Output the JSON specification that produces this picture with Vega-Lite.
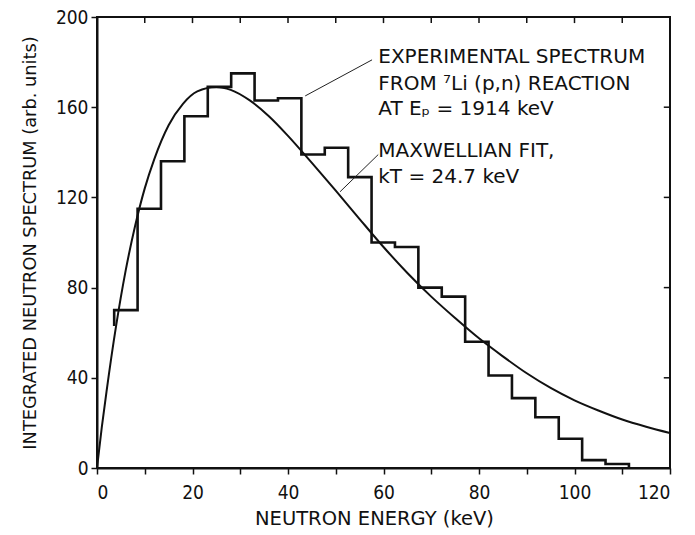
{
  "$schema": "https://vega.github.io/schema/vega-lite/v6.json",
  "width": 573,
  "height": 451,
  "autosize": {"type": "none"},
  "padding": {"left": 97, "top": 17, "right": 25, "bottom": 67},
  "background": "white",
  "config": {
    "view": {"stroke": "#111", "strokeWidth": 2},
    "font": "DejaVu Sans",
    "axis": {
      "domainColor": "#111",
      "domainWidth": 2,
      "tickColor": "#111",
      "tickWidth": 1.5,
      "tickSize": 6,
      "labelColor": "#111",
      "labelFont": "DejaVu Sans Condensed",
      "labelFontSize": 19,
      "titleColor": "#111",
      "titleFont": "DejaVu Sans",
      "titleFontSize": 19.5,
      "titleFontWeight": "normal",
      "grid": false
    }
  },
  "datasets": {
    "fit": [
      {"energy": 0, "value": 0},
      {"energy": 1, "value": 18},
      {"energy": 2, "value": 34},
      {"energy": 4, "value": 63},
      {"energy": 6, "value": 87.5},
      {"energy": 8, "value": 107.5},
      {"energy": 10, "value": 124},
      {"energy": 12, "value": 137},
      {"energy": 15, "value": 152},
      {"energy": 18, "value": 161.5},
      {"energy": 21, "value": 167},
      {"energy": 25, "value": 169},
      {"energy": 28, "value": 167.7},
      {"energy": 32, "value": 163},
      {"energy": 36, "value": 156},
      {"energy": 40, "value": 147.3},
      {"energy": 45, "value": 135.3},
      {"energy": 50, "value": 123},
      {"energy": 55, "value": 110.4},
      {"energy": 60, "value": 98},
      {"energy": 65, "value": 86.5},
      {"energy": 70, "value": 76},
      {"energy": 75, "value": 66.5},
      {"energy": 80, "value": 57.5},
      {"energy": 85, "value": 49.5},
      {"energy": 90, "value": 42},
      {"energy": 95, "value": 35.5},
      {"energy": 100, "value": 30},
      {"energy": 105, "value": 25.5},
      {"energy": 110, "value": 21.5},
      {"energy": 115, "value": 18.3},
      {"energy": 120, "value": 15.5}
    ],
    "hist": [
      {"energy": 3.6, "counts": 63},
      {"energy": 3.6, "counts": 70},
      {"energy": 8.5, "counts": 115},
      {"energy": 13.4, "counts": 136},
      {"energy": 18.3, "counts": 156},
      {"energy": 23.2, "counts": 169},
      {"energy": 28.1, "counts": 175},
      {"energy": 33.0, "counts": 163},
      {"energy": 37.9, "counts": 164},
      {"energy": 42.8, "counts": 139},
      {"energy": 47.7, "counts": 142},
      {"energy": 52.6, "counts": 129},
      {"energy": 57.5, "counts": 100},
      {"energy": 62.4, "counts": 98},
      {"energy": 67.3, "counts": 80},
      {"energy": 72.2, "counts": 76},
      {"energy": 77.1, "counts": 56},
      {"energy": 82.0, "counts": 41},
      {"energy": 86.9, "counts": 31},
      {"energy": 91.8, "counts": 22.5},
      {"energy": 96.7, "counts": 13},
      {"energy": 101.6, "counts": 3.5},
      {"energy": 106.5, "counts": 1.8},
      {"energy": 111.4, "counts": 0}
    ],
    "topTicks": [
      {"tick": 10}, {"tick": 20}, {"tick": 30}, {"tick": 40}, {"tick": 50}, {"tick": 60},
      {"tick": 70}, {"tick": 80}, {"tick": 90}, {"tick": 100}, {"tick": 110}
    ],
    "rightTicks": [
      {"tick": 40}, {"tick": 80}, {"tick": 120}, {"tick": 160}
    ],
    "pointers": [
      {"x": 43.6, "y": 165, "x2": 57.6, "y2": 181},
      {"x": 50.9, "y": 122.5, "x2": 58.9, "y2": 139}
    ],
    "notes": [
      {"x": 58.9, "y": 179.6, "text": "EXPERIMENTAL SPECTRUM"},
      {"x": 58.9, "y": 167.6, "text": "FROM ⁷Li (p,n) REACTION"},
      {"x": 58.9, "y": 156.5, "text": "AT Eₚ = 1914 keV"},
      {"x": 58.9, "y": 137.9, "text": "MAXWELLIAN FIT,"},
      {"x": 58.9, "y": 126.4, "text": "kT = 24.7 keV"}
    ]
  },
  "layer": [
    {
      "data": {"name": "fit"},
      "mark": {"type": "line", "color": "#111", "strokeWidth": 2, "interpolate": "monotone"},
      "encoding": {
        "x": {
          "field": "energy", "type": "quantitative",
          "scale": {"domain": [0, 120], "nice": false, "zero": false},
          "axis": {
            "orient": "bottom",
            "title": "NEUTRON ENERGY (keV)",
            "values": [0, 10, 20, 30, 40, 50, 60, 70, 80, 90, 100, 110, 120],
            "labelExpr": "datum.value % 20 == 0 ? datum.label : ''",
            "labelPadding": 9,
            "titlePadding": 7,
            "titleX": 277
          }
        },
        "y": {
          "field": "value", "type": "quantitative",
          "scale": {"domain": [0, 200], "nice": false, "zero": false},
          "axis": {
            "orient": "left",
            "title": "INTEGRATED NEUTRON SPECTRUM (arb. units)",
            "titleFontSize": 17.8,
            "values": [0, 40, 80, 120, 160, 200],
            "labelPadding": 3,
            "titlePadding": 16
          }
        }
      }
    },
    {
      "data": {"name": "hist"},
      "mark": {"type": "line", "color": "#111", "strokeWidth": 2.6, "interpolate": "step-after"},
      "encoding": {
        "x": {"field": "energy", "type": "quantitative"},
        "y": {"field": "counts", "type": "quantitative"}
      }
    },
    {
      "data": {"name": "topTicks"},
      "mark": {"type": "rule", "color": "#111", "strokeWidth": 1.5},
      "encoding": {
        "x": {"field": "tick", "type": "quantitative"},
        "y": {"datum": 200, "type": "quantitative"},
        "y2": {"datum": 197.3}
      }
    },
    {
      "data": {"name": "rightTicks"},
      "mark": {"type": "rule", "color": "#111", "strokeWidth": 1.5},
      "encoding": {
        "y": {"field": "tick", "type": "quantitative"},
        "x": {"datum": 120, "type": "quantitative"},
        "x2": {"datum": 118.7}
      }
    },
    {
      "data": {"name": "pointers"},
      "mark": {"type": "rule", "color": "#222", "strokeWidth": 1},
      "encoding": {
        "x": {"field": "x", "type": "quantitative"},
        "y": {"field": "y", "type": "quantitative"},
        "x2": {"field": "x2"},
        "y2": {"field": "y2"}
      }
    },
    {
      "data": {"name": "notes"},
      "mark": {"type": "text", "align": "left", "baseline": "alphabetic", "font": "DejaVu Sans", "fontSize": 20, "color": "#111"},
      "encoding": {
        "x": {"field": "x", "type": "quantitative"},
        "y": {"field": "y", "type": "quantitative"},
        "text": {"field": "text"}
      }
    }
  ]
}
